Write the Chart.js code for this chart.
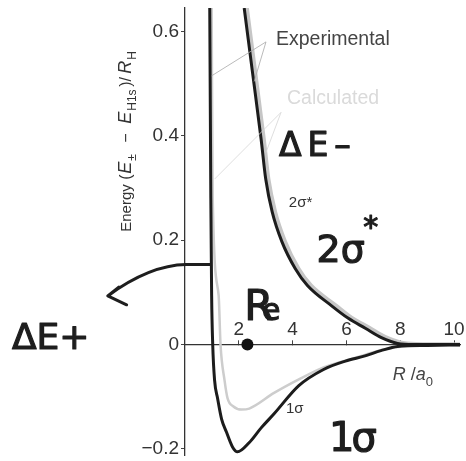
<!DOCTYPE html>
<html lang="en">
<head>
<meta charset="UTF-8">
<title>H2+ energy curves</title>
<script src="https://cdn.jsdelivr.net/npm/chart.js"></script>
<style>
  html, body { margin: 0; padding: 0; background: #fff; }
  #wrap { width: 466px; height: 461px; }
</style>
</head>
<body>
<div id="wrap"><canvas id="energyChart" width="466" height="461"></canvas></div>
<script>
// R / a0 and energy (E - E_H1s) / R_H for the bonding (1σ) and antibonding (2σ*) states
const sigma1ExpR = [0.92, 0.96, 0.99, 1.03, 1.10, 1.21, 1.36, 1.54, 1.76, 1.95, 2.39, 2.83, 3.31, 4.23, 5.15, 5.96, 6.69, 7.28, 7.9, 9.0, 10.22];
const sigma1ExpE = [0.645, 0.28, 0.094, 0, -0.069, -0.103, -0.143, -0.168, -0.196, -0.206, -0.188, -0.160, -0.133, -0.079, -0.048, -0.032, -0.022, -0.012, -0.004, -0.002, -0.001];

const sigma1CalcR = [0.99, 1.03, 1.25, 1.32, 1.47, 1.58, 1.80, 2.10, 2.39, 3.31, 4.23, 5.15, 5.96, 6.69, 7.35, 8.5, 10.22];
const sigma1CalcE = [0.645, 0.28, 0.094, 0, -0.069, -0.103, -0.119, -0.125, -0.123, -0.093, -0.067, -0.044, -0.031, -0.020, -0.010, -0.002, 0];

const sigma2ExpR = [2.2, 2.5, 2.83, 3.0, 3.24, 3.6, 4.1, 4.55, 5.45, 6.07, 6.7, 7.3, 7.9, 8.5, 10.22];
const sigma2ExpE = [0.645, 0.525, 0.393, 0.317, 0.254, 0.197, 0.145, 0.113, 0.074, 0.050, 0.031, 0.013, 0.002, 0, 0];

const sigma2CalcR = [2.3, 2.6, 2.93, 3.1, 3.35, 3.72, 4.22, 4.68, 5.6, 6.2, 6.85, 7.45, 8.0, 8.6, 10.22];
const sigma2CalcE = [0.645, 0.525, 0.393, 0.317, 0.254, 0.197, 0.145, 0.113, 0.075, 0.051, 0.032, 0.014, 0.004, 0.001, 0];

// equilibrium bond length marker
const reR = [2.32];
const reE = [0];

const xTicks = [2, 4, 6, 8, 10];
const yTicks = [-0.2, 0, 0.2, 0.4, 0.6];

const toPoints = (xs, ys) => xs.map((v, i) => ({ x: v, y: ys[i] }));

const SANS = '"Liberation Sans", Arial, sans-serif';
const HAND = '"DejaVu Sans", sans-serif';

// pieces: [text, style, advance, size]; style '' | 'i' | 'sub', advance = offset from start (px)
function richText(ctx, parts, size) {
  let cx = 0;
  parts.forEach(([t, s, adv, sz]) => {
    const fs = sz || (s === 'sub' ? Math.round(size * 0.72) : size);
    ctx.font = (s === 'i' ? 'italic ' : '') + fs + 'px ' + SANS;
    if (adv !== undefined) cx = adv;
    ctx.fillText(t, cx, s === 'sub' ? size * 0.32 : 0);
    cx += ctx.measureText(t).width;
  });
}

const notes = {
  id: 'notes',
  afterDraw(chart) {
    const { ctx, scales: { x, y } } = chart;
    const at = (r, e) => [x.getPixelForValue(r), y.getPixelForValue(e)];
    ctx.save();

    // axis title
    ctx.fillStyle = '#333';
    ctx.textAlign = 'left';
    ctx.textBaseline = 'alphabetic';
    ctx.save();
    ctx.translate(...at(-2.02, 0.216));
    ctx.rotate(-Math.PI / 2);
    richText(ctx, [
      ['Energy', '', 0, 15], ['(', '', 52, 16], ['E', 'i', 58, 18], ['±', 'sub', 71, 12], ['−', '', 89, 16],
      ['E', 'i', 108, 18], ['H1s', 'sub', 121, 12], [')/', '', 145, 16], ['R', 'i', 158, 18], ['H', 'sub', 172, 12]
    ], 16);
    ctx.restore();

    // R / a0
    ctx.save();
    ctx.translate(...at(7.72, -0.068));
    ctx.fillStyle = '#444';
    richText(ctx, [['R', 'i'], [' /', ''], ['a', 'i'], ['0', 'sub']], 18);
    ctx.restore();

    // leader lines
    ctx.lineWidth = 0.8;
    ctx.strokeStyle = '#a8a8a8';
    const seg = (a, b) => { ctx.beginPath(); ctx.moveTo(...at(...a)); ctx.lineTo(...at(...b)); ctx.stroke(); };
    seg([3.01, 0.58], [0.99, 0.515]);
    seg([3.01, 0.58], [2.57, 0.504]);
    ctx.strokeStyle = '#d6d6d6';
    seg([3.57, 0.445], [1.10, 0.317]);
    seg([3.57, 0.445], [3.01, 0.368]);

    ctx.textBaseline = 'middle';
    ctx.font = '19.5px ' + SANS;
    ctx.fillStyle = '#444';
    ctx.fillText('Experimental', ...at(3.38, 0.584));
    ctx.fillStyle = '#dadada';
    ctx.fillText('Calculated', ...at(3.79, 0.471));

    ctx.fillStyle = '#333';
    ctx.font = '15px ' + SANS;
    ctx.fillText('2σ*', ...at(3.86, 0.271));
    ctx.fillText('1σ', ...at(3.75, -0.124));

    // handwritten notes
    ctx.fillStyle = '#1e1e1e';
    ctx.strokeStyle = '#1e1e1e';
    ctx.lineWidth = 1.2;
    ctx.lineJoin = 'round';
    ctx.textBaseline = 'alphabetic';
    const hand = (t, size, r, e, gap) => {
      ctx.font = size + 'px ' + HAND;
      ctx.letterSpacing = (gap || 0) + 'px';
      const p = at(r, e);
      ctx.fillText(t, ...p);
      ctx.strokeText(t, ...p);
      ctx.letterSpacing = '0px';
    };
    hand('ΔE–', 33, 3.49, 0.361, 6);
    hand('2σ', 38, 4.89, 0.158);
    hand('*', 30, 6.62, 0.205);
    hand('R', 42, 2.2, 0.046);
    hand('e', 30, 2.86, 0.046);
    hand('1σ', 40, 5.35, -0.205, -3);
    hand('ΔE+', 36, -6.43, -0.008, 0);

    // arrow from the curve to ΔE+
    ctx.lineWidth = 3;
    ctx.lineCap = 'round';
    ctx.beginPath();
    ctx.moveTo(...at(0.92, 0.153));
    ctx.lineTo(...at(0.04, 0.153));
    ctx.quadraticCurveTo(...at(-1.3, 0.152), ...at(-2.87, 0.093));
    ctx.moveTo(...at(-2.46, 0.11));
    ctx.lineTo(...at(-2.87, 0.093));
    ctx.lineTo(...at(-2.17, 0.076));
    ctx.stroke();

    ctx.restore();
  }
};

const curve = (data, color, width) => ({
  data, showLine: true, borderColor: color, borderWidth: width,
  pointRadius: 0, cubicInterpolationMode: 'monotone', fill: false
});

// keep the plot area fixed: no extra room for half-labels at the ends
const noEdgePadding = s => { s.paddingTop = 0; s.paddingBottom = 0; s.paddingLeft = 0; s.paddingRight = 0; };

new Chart(document.getElementById('energyChart'), {
  type: 'scatter',
  data: {
    datasets: [
      { data: toPoints(reR, reE), pointRadius: 6, pointBackgroundColor: '#111', pointBorderWidth: 0, showLine: false },
      curve(toPoints(sigma1ExpR, sigma1ExpE), '#1c1c1c', 3),
      curve(toPoints(sigma2ExpR, sigma2ExpE), '#1c1c1c', 3),
      curve(toPoints(sigma1CalcR, sigma1CalcE), '#cdcdcd', 2.5),
      curve(toPoints(sigma2CalcR, sigma2CalcE), '#c6c6c6', 4)
    ]
  },
  options: {
    responsive: false,
    animation: false,
    layout: { padding: { left: 100, right: 3, top: 8, bottom: 4 } },
    plugins: { legend: { display: false }, tooltip: { enabled: false } },
    scales: {
      x: {
        type: 'linear',
        min: 0,
        max: 10.22,
        position: { y: 0 },
        afterBuildTicks: s => { s.ticks = xTicks.map(v => ({ value: v })); },
        afterFit: noEdgePadding,
        grid: { drawOnChartArea: false, tickLength: -5, color: '#444', tickWidth: 1 },
        border: { color: '#333', width: 1.3 },
        ticks: { padding: -21, color: '#333', font: { size: 19, family: SANS }, maxRotation: 0, autoSkip: false }
      },
      y: {
        type: 'linear',
        min: -0.212,
        max: 0.645,
        afterFit: s => { noEdgePadding(s); s.width = 85; },
        afterBuildTicks: s => { s.ticks = yTicks.map(v => ({ value: v })); },
        grid: { drawOnChartArea: false, tickLength: 4, color: '#444' },
        border: { color: '#333', width: 1.3 },
        ticks: {
          padding: 2, color: '#333', font: { size: 19, family: SANS },
          callback: v => v === 0 ? '0' : (v < 0 ? '\u2212' : '') + Math.abs(v).toFixed(1)
        }
      }
    }
  },
  plugins: [notes]
});
</script>
</body>
</html>
